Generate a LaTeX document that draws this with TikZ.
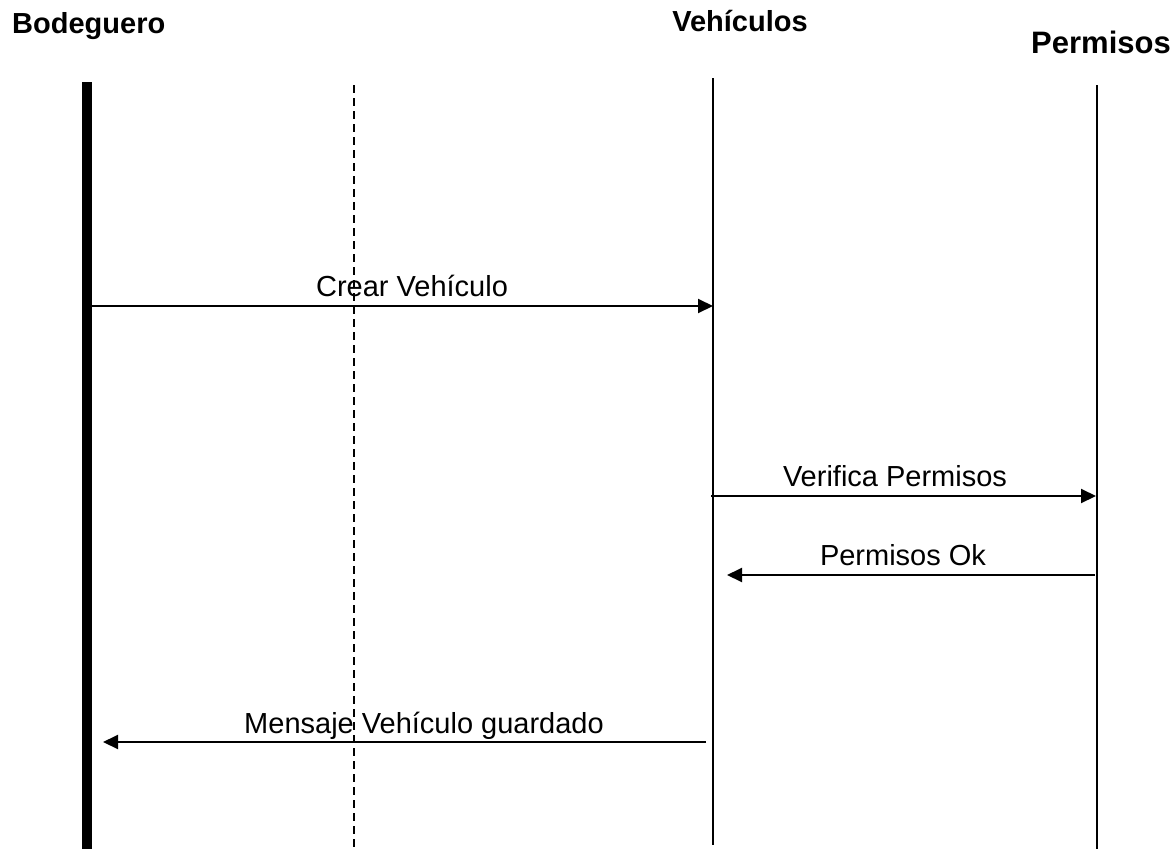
\documentclass[tikz,border=0pt]{standalone}
\usepackage{fontspec}
\setmainfont{Liberation Sans}
\usetikzlibrary{arrows.meta, positioning}

\begin{document}
\begin{tikzpicture}[x=1pt, y=-1pt,
  actor/.style     = {font=\fontsize{29}{34}\selectfont\bfseries, inner sep=0pt, anchor=base},
  actorlife/.style = {draw=black, line width=10pt},
  life/.style      = {draw=black, line width=1.3pt},
  guide/.style     = {draw=black, line width=1.2pt, dash pattern=on 8pt off 5pt},
  msg/.style       = {draw=black, line width=2pt, -{Triangle[length=15pt, width=14pt]}},
  msglbl/.style    = {font=\fontsize{29}{34}\selectfont, inner sep=0pt, anchor=base},
]
\useasboundingbox (0,0) rectangle (1176,849);

% participants
\node[actor, anchor=base west] (bod) at (12,33) {Bodeguero};
\node[actor] (veh) at (740,31) {Vehículos};
\node[actor, font=\fontsize{31}{36}\selectfont\bfseries] (per) at (1101,53) {Permisos};

% lifelines
\coordinate (bodTop) at (87,82);   \coordinate (bodBot) at (87,849);
\coordinate (midTop) at (354,85);  \coordinate (midBot) at (354,849);
\coordinate (vehTop) at (713,78);  \coordinate (vehBot) at (713,845);
\coordinate (perTop) at (1097,85); \coordinate (perBot) at (1097,849);
\draw[actorlife] (bodTop) -- (bodBot);
\draw[guide] (midTop) -- (midBot);
\draw[life] (vehTop) -- (vehBot);
\draw[life] (perTop) -- (perBot);

% messages
\coordinate (crearA) at (92,306);    \coordinate (crearB) at (713,306);
\coordinate (verifA) at (711,496);   \coordinate (verifB) at (1096,496);
\coordinate (okA) at (1095,575);     \coordinate (okB) at (727,575);
\coordinate (guardA) at (706,742);   \coordinate (guardB) at (103,742);

\draw[msg] (crearA) -- (crearB);
\node[msglbl] (crear) at (412,296) {Crear Vehículo};
\draw[msg] (verifA) -- (verifB);
\node[msglbl] (verif) at (895,486) {Verifica Permisos};
\draw[msg] (okA) -- (okB);
\node[msglbl] (ok) at (903,565) {Permisos Ok};
\draw[msg] (guardA) -- (guardB);
\node[msglbl] (guard) at (424,733) {Mensaje Vehículo guardado};

\end{tikzpicture}
\end{document}
